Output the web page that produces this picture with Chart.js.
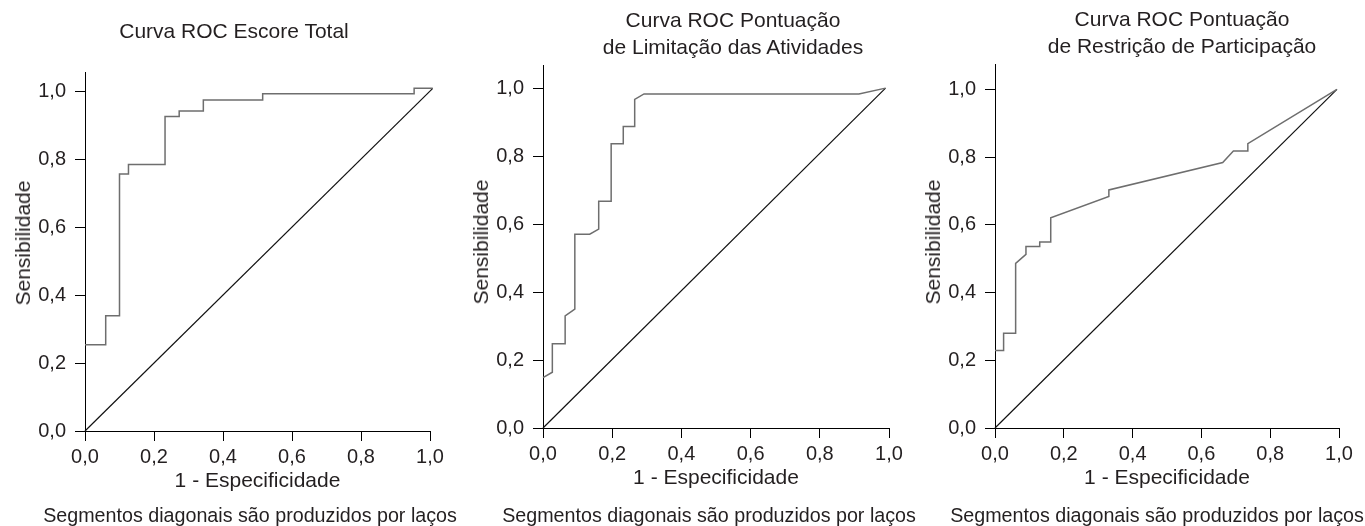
<!DOCTYPE html>
<html lang="pt">
<head>
<meta charset="UTF-8">
<title>Curvas ROC</title>
<script src="https://cdn.jsdelivr.net/npm/chart.js"></script>
<style>
    html, body { margin: 0; padding: 0; background: #fff; }
    body { width: 1365px; height: 526px; position: relative; overflow: hidden;
           font-family: 'Liberation Sans', Arial, Helvetica, sans-serif; color: #231f20; }
    .box { position: absolute; top: 0; width: 455px; height: 526px; }
    .txt { position: absolute; transform: translateX(-50%); white-space: nowrap;
           text-align: center; font-size: 21px; line-height: 27px; }
    .foot { font-size: 19.7px; line-height: 26px; }
    .ytitle { position: absolute; white-space: nowrap; font-size: 21px; line-height: 24px;
              transform: translate(-50%, -50%) rotate(-90deg); }
</style>
</head>
<body>
<div class="box" style="left:0px"><canvas id="roc1"></canvas></div>
<div class="box" style="left:458px"><canvas id="roc2"></canvas></div>
<div class="box" style="left:910px"><canvas id="roc3"></canvas></div>

<div class="txt" style="left:234px; top:17px">Curva ROC Escore Total</div>
<div class="txt" style="left:733px; top:6px">Curva ROC Pontuação<br>de Limitação das Atividades</div>
<div class="txt" style="left:1182px; top:5px">Curva ROC Pontuação<br>de Restrição de Participação</div>

<div class="ytitle" style="left:23px; top:243px">Sensibilidade</div>
<div class="ytitle" style="left:481px; top:242px">Sensibilidade</div>
<div class="ytitle" style="left:933px; top:242px">Sensibilidade</div>

<div class="txt foot" style="left:250px; top:502px">Segmentos diagonais são produzidos por laços</div>
<div class="txt foot" style="left:709px; top:502px">Segmentos diagonais são produzidos por laços</div>
<div class="txt foot" style="left:1157px; top:502px">Segmentos diagonais são produzidos por laços</div>

<script>
// ticks
const tickValues = [0, 0.2, 0.4, 0.6, 0.8, 1.0];
const tickLabels = ['0,0', '0,2', '0,4', '0,6', '0,8', '1,0'];

// Curva ROC Escore Total
const roc1X = [0, 0.06, 0.06, 0.10, 0.10, 0.126, 0.126, 0.232, 0.232, 0.273, 0.273, 0.343, 0.343, 0.515, 0.515, 0.954, 0.954, 1.008];
const roc1Y = [0.254, 0.254, 0.339, 0.339, 0.756, 0.756, 0.784, 0.784, 0.925, 0.925, 0.941, 0.941, 0.974, 0.974, 0.992, 0.992, 1.008, 1.008];
const diag1X = [0, 1.008];
const diag1Y = [0, 1.008];

// Limitação das Atividades
const roc2X = [0, 0.027, 0.027, 0.064, 0.064, 0.092, 0.092, 0.135, 0.161, 0.161, 0.197, 0.197, 0.232, 0.232, 0.265, 0.265, 0.292, 0.913, 0.99];
const roc2Y = [0.148, 0.164, 0.248, 0.248, 0.330, 0.350, 0.570, 0.570, 0.585, 0.667, 0.667, 0.836, 0.836, 0.887, 0.887, 0.967, 0.983, 0.983, 1.0];
const diag2X = [0, 0.99];
const diag2Y = [0, 1.0];

// Restrição de Participação
const roc3X = [0, 0.025, 0.025, 0.060, 0.060, 0.090, 0.090, 0.130, 0.130, 0.162, 0.162, 0.331, 0.331, 0.662, 0.693, 0.735, 0.735, 0.994];
const roc3Y = [0.229, 0.229, 0.280, 0.280, 0.486, 0.513, 0.536, 0.536, 0.549, 0.549, 0.621, 0.684, 0.703, 0.784, 0.818, 0.818, 0.840, 1.0];
const diag3X = [0, 0.994];
const diag3Y = [0, 1.0];

const FONT = "'Liberation Sans', Arial, Helvetica, sans-serif";
const INK = '#231f20';

function pts(xs, ys) {
    return xs.map((x, i) => ({ x: x, y: ys[i] }));
}

function makeChart(id, rx, ry, dx, dy, yMax, pad) {
    const ctx = document.getElementById(id).getContext('2d');
    const axisCommon = {
        type: 'linear',
        grid: { drawOnChartArea: false, drawTicks: true, tickLength: 10, color: '#000', lineWidth: 1 },
        border: { display: true, color: '#000', width: 1 },
        afterBuildTicks: s => { s.ticks = tickValues.map(v => ({ value: v })); },
        ticks: {
            autoSkip: false,
            color: INK,
            font: { family: FONT, size: 20 },
            callback: (v, i) => tickLabels[i]
        }
    };
    return new Chart(ctx, {
        type: 'scatter',
        data: {
            datasets: [
                {
                    data: pts(rx, ry),
                    showLine: true,
                    borderColor: '#6e6e6e',
                    borderWidth: 1.5,
                    pointRadius: 0,
                    clip: false
                },
                {
                    data: pts(dx, dy),
                    showLine: true,
                    borderColor: '#111',
                    borderWidth: 1.2,
                    pointRadius: 0,
                    clip: false
                }
            ]
        },
        options: {
            responsive: true,
            maintainAspectRatio: false,
            animation: false,
            devicePixelRatio: 1,
            layout: { padding: pad },
            plugins: { legend: { display: false }, tooltip: { enabled: false } },
            scales: {
                x: Object.assign({}, axisCommon, {
                    position: 'bottom',
                    min: 0, max: 1,
                    ticks: Object.assign({}, axisCommon.ticks, { padding: 4, maxRotation: 0 }),
                    title: { display: true, text: '1 - Especificidade', color: INK,
                             font: { family: FONT, size: 21 }, padding: 0 },
                    afterFit: s => { s.height = 63; }
                }),
                y: Object.assign({}, axisCommon, {
                    position: 'left',
                    min: 0, max: yMax,
                    ticks: Object.assign({}, axisCommon.ticks, { padding: 9 }),
                    afterFit: s => { s.width = 74; }
                })
            }
        }
    });
}

makeChart('roc1', roc1X, roc1Y, diag1X, diag1Y, 1.056, { left: 11, right: 25, top: 72, bottom: 32 });
makeChart('roc2', roc2X, roc2Y, diag2X, diag2Y, 1.068, { left: 11, right: 24, top: 65, bottom: 35 });
makeChart('roc3', roc3X, roc3Y, diag3X, diag3Y, 1.075, { left: 11, right: 26, top: 64, bottom: 35 });
</script>
</body>
</html>
